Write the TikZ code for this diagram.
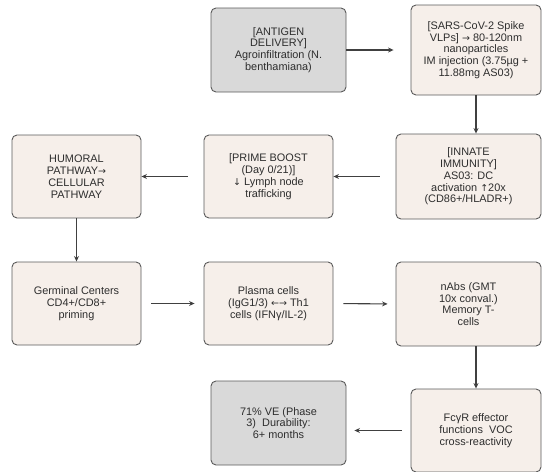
\documentclass[tikz,border=0pt]{standalone}
\usepackage{fontspec}
\setmainfont{Liberation Sans}
\newfontfamily\symfont{DejaVu Sans}
\usetikzlibrary{arrows.meta}
\definecolor{boxfill}{HTML}{F6EFEA}
\definecolor{grayfill}{HTML}{D9D9D9}
\definecolor{boxline}{HTML}{5A5A5A}
\definecolor{inktext}{HTML}{2E2E2E}
\definecolor{inkarrow}{HTML}{404040}
\newcommand{\sym}[1]{{\symfont\fontsize{9.5}{11}\selectfont #1}}
\tikzset{
  flowbox/.style={rectangle, rounded corners=5pt, draw=boxline, line width=0.9pt,
    fill=boxfill, align=center, text=inktext, inner sep=2pt,
    font=\fontsize{10.9}{11.8}\selectfont},
  endbox/.style={flowbox, fill=grayfill}
}
\newcommand{\stage}[7]{\node[#6, minimum width=#4, minimum height=#5] (#1) at (#2,#3) {#7};}
\newcommand{\flow}[3]{\draw[-{Stealth[length=5.5pt,width=5pt]}, line width=1.1pt, inkarrow, #3] (#1)--(#2);}

\begin{document}
\begin{tikzpicture}[x=1pt, y=-1pt]
  \useasboundingbox (0,0) rectangle (542,472);

  % Row 1
  % -----
  \stage{deliv}{278.5}{50}{135}{84}{endbox}
    {[ANTIGEN\\DELIVERY]\\Agroinfiltration (N.\\benthamiana)}
  \stage{vlps}{476}{50}{130}{90}{flowbox}
    {[SARS-CoV-2 Spike\\VLPs] \sym{→} 80-120nm\\nanoparticles\\IM injection (3.75µg +\\11.88mg AS03)}

  % Row 2
  % -----
  \stage{innate}{468.5}{176.5}{145}{85}{flowbox}
    {[INNATE\\IMMUNITY]\\AS03: DC\\activation \sym{↑}20x\\(CD86+/HLADR+)}
  \stage{prime}{268.5}{176.5}{129}{83}{flowbox}
    {[PRIME BOOST\\(Day 0/21)]\\\sym{↓} Lymph node\\trafficking}
  \stage{humoral}{76.5}{176.5}{129}{83}{flowbox}
    {HUMORAL\\PATHWAY\sym{→}\\CELLULAR\\PATHWAY}

  % Row 3
  % -----
  \stage{germ}{76.5}{303.5}{129}{83}{flowbox}
    {Germinal Centers\\CD4+/CD8+\\priming}
  \stage{plasma}{268.5}{303.5}{129}{83}{flowbox}
    {Plasma cells\\(IgG1/3) \sym{←→} Th1\\cells (IFNγ/IL-2)}
  \stage{nabs}{468.5}{304}{145}{84}{flowbox}
    {nAbs (GMT\\10x conval.)\\Memory T-\\cells}

  % Row 4
  % -----
  \stage{fcyr}{476}{430.5}{130}{83}{flowbox}
    {FcγR effector\\functions\ \ VOC\\cross-reactivity}
  \stage{ve}{278.5}{423}{135}{84}{endbox}
    {71\% VE (Phase\\3)\ \ Durability:\\6+ months}

  % Arrows
  % ======
  \flow{deliv.east}{vlps.west}{shorten >=17pt}
  \flow{vlps.south}{vlps.south |- innate.north}{}
  \flow{innate.west}{prime.east}{shorten <=16pt}
  \flow{prime.west}{humoral.east}{shorten <=16pt}
  \flow{humoral.south}{germ.north}{}
  \flow{germ.east}{plasma.west}{shorten <=10pt, shorten >=9pt}
  \flow{plasma.east}{nabs.west}{shorten <=10pt, shorten >=8pt}
  \flow{fcyr.north |- nabs.south}{fcyr.north}{}
  \flow{fcyr.west}{fcyr.west -| ve.east}{shorten <=9pt, shorten >=8pt}

\end{tikzpicture}
\end{document}
